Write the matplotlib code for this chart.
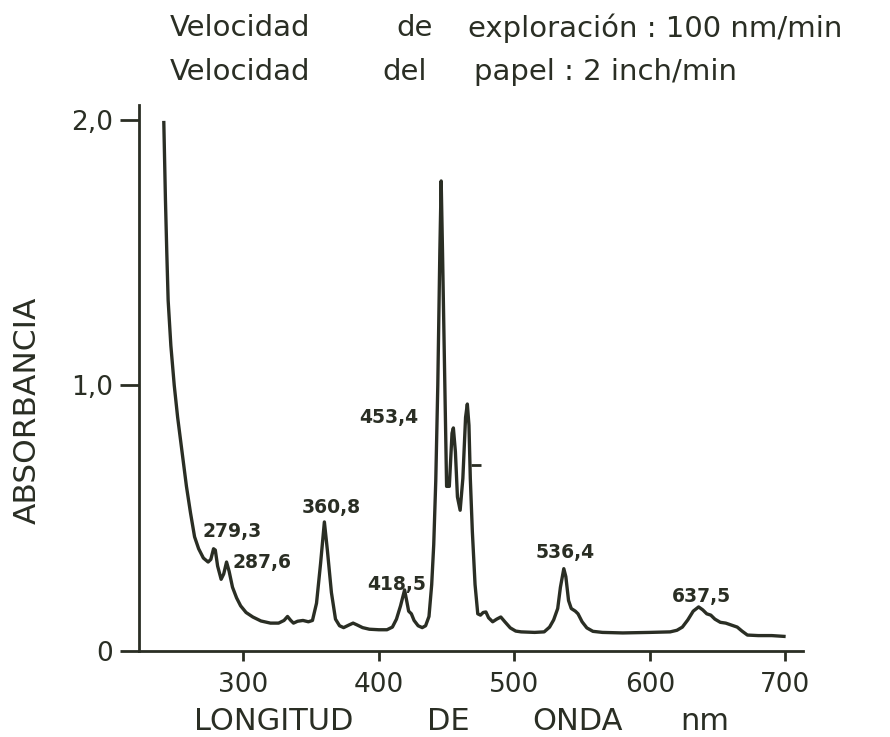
import matplotlib.pyplot as plt

# espectro (nm, absorbancia)
longitud = [241.3, 242.5, 243.5, 244.5, 246.5, 249, 251.5, 253.5, 256, 258, 261, 264, 267,
            270.5, 274, 276, 278, 279.3, 281, 283.6, 285.5, 287.6, 289.5, 292, 295, 298,
            302, 307, 313, 320, 326, 330, 332.6, 335, 337, 340, 344, 348, 351, 354, 357,
            359.8, 362, 365, 368, 371, 374, 378, 381, 384, 388, 393, 400, 406, 410, 413,
            416, 419, 420.5, 422, 424, 426, 429, 432, 434.5, 437, 439, 440.5, 442, 443.5,
            445, 446, 447, 448.5, 450, 452, 454, 455, 456.5, 458, 460, 462, 464, 465.3,
            466.5, 467.5, 469, 471, 473, 475, 477, 479, 481, 484, 487, 490, 493, 497, 501,
            505, 515, 522, 526, 529, 532, 534, 536.5, 538, 540, 542, 545, 547, 550, 553.5,
            558, 565, 580, 600, 615, 620, 624, 628, 632, 636, 639, 642, 645, 648, 652, 656,
            660, 664.5, 668, 672, 680, 690, 699]
absorbancia = [1.99, 1.70, 1.50, 1.32, 1.15, 1.00, 0.88, 0.80, 0.70, 0.62, 0.52, 0.43, 0.385,
               0.35, 0.335, 0.345, 0.385, 0.38, 0.32, 0.27, 0.29, 0.335, 0.30, 0.24, 0.20, 0.17,
               0.145, 0.128, 0.113, 0.105, 0.105, 0.115, 0.13, 0.115, 0.105, 0.112, 0.115, 0.11,
               0.115, 0.18, 0.33, 0.486, 0.38, 0.22, 0.12, 0.095, 0.088, 0.098, 0.105, 0.098,
               0.088, 0.082, 0.08, 0.08, 0.09, 0.12, 0.17, 0.23, 0.19, 0.15, 0.14, 0.115, 0.095,
               0.088, 0.095, 0.13, 0.25, 0.40, 0.64, 1.0, 1.5, 1.77, 1.5, 1.05, 0.62, 0.62, 0.82,
               0.84, 0.75, 0.58, 0.53, 0.65, 0.88, 0.93, 0.85, 0.65, 0.45, 0.25, 0.14, 0.135,
               0.145, 0.147, 0.125, 0.11, 0.12, 0.128, 0.11, 0.087, 0.075, 0.072, 0.07, 0.072,
               0.09, 0.117, 0.16, 0.24, 0.31, 0.28, 0.19, 0.16, 0.15, 0.14, 0.11, 0.087, 0.074,
               0.07, 0.068, 0.07, 0.072, 0.078, 0.09, 0.117, 0.15, 0.166, 0.155, 0.14, 0.135,
               0.12, 0.108, 0.105, 0.098, 0.09, 0.075, 0.06, 0.058, 0.058, 0.055]

# etiquetas de los picos y su posicion (nm, absorbancia)
picos = ["279,3", "287,6", "360,8", "418,5", "453,4", "536,4", "637,5"]
picos_x = [292, 314, 365, 413, 407, 537.7, 638]
picos_y = [0.45, 0.335, 0.54, 0.25, 0.88, 0.37, 0.207]

# marca del registrador
marca_x = [472]
marca_y = [0.70]

xticks = [300, 400, 500, 600, 700]
yticks = [0, 1.0, 2.0]
ytick_labels = ["0", "1,0", "2,0"]

# textos (palabras sueltas, centradas como en el original)
linea1 = ["Velocidad", "de", "exploración : 100 nm/min"]
linea1_x = [240, 415, 655]
linea2 = ["Velocidad", "del", "papel : 2 inch/min"]
linea2_x = [240, 405, 605]
eje_x = ["LONGITUD", "DE", "ONDA", "nm"]
eje_x_pos = [274, 448, 578, 705]

tinta = '#2a2e24'
W, H = 890, 737

fig = plt.figure(figsize=(8.9, 7.37), dpi=100)
ax = fig.add_axes([0.1562, 0.1167, 0.746, 0.7408])

ax.plot(longitud, absorbancia, color=tinta, lw=2.4, solid_joinstyle='round')
ax.plot(marca_x, marca_y, ls='none', marker='_', ms=7, mew=2, color=tinta)

for t, x, y in zip(picos, picos_x, picos_y):
    ax.text(x, y, t, ha='center', va='center', fontsize=13.5, fontweight='bold',
            color=tinta)

ax.set_xlim(223, 713)
ax.set_ylim(0, 2.056)
ax.set_xticks(xticks)
ax.set_yticks(yticks)
ax.set_yticklabels(ytick_labels)
ax.spines['top'].set_visible(False)
ax.spines['right'].set_visible(False)
for s in ['left', 'bottom']:
    ax.spines[s].set_linewidth(2)
    ax.spines[s].set_color(tinta)
ax.tick_params(axis='x', direction='out', length=7, width=2, pad=8,
               labelsize=19, colors=tinta)
ax.tick_params(axis='y', direction='out', length=14, width=2, pad=5,
               labelsize=19, colors=tinta)

for t, x in zip(linea1, linea1_x):
    fig.text(x / W, 1 - 28 / H, t, fontsize=21, color=tinta, va='center', ha='center')
for t, x in zip(linea2, linea2_x):
    fig.text(x / W, 1 - 72 / H, t, fontsize=21, color=tinta, va='center', ha='center')
for t, x in zip(eje_x, eje_x_pos):
    fig.text(x / W, 1 - 722 / H, t, fontsize=22, color=tinta, va='center', ha='center')
fig.text(27 / W, 1 - 410 / H, "ABSORBANCIA", fontsize=22.5, color=tinta,
         rotation=90, ha='center', va='center')

fig.savefig("out.png", dpi=100)
